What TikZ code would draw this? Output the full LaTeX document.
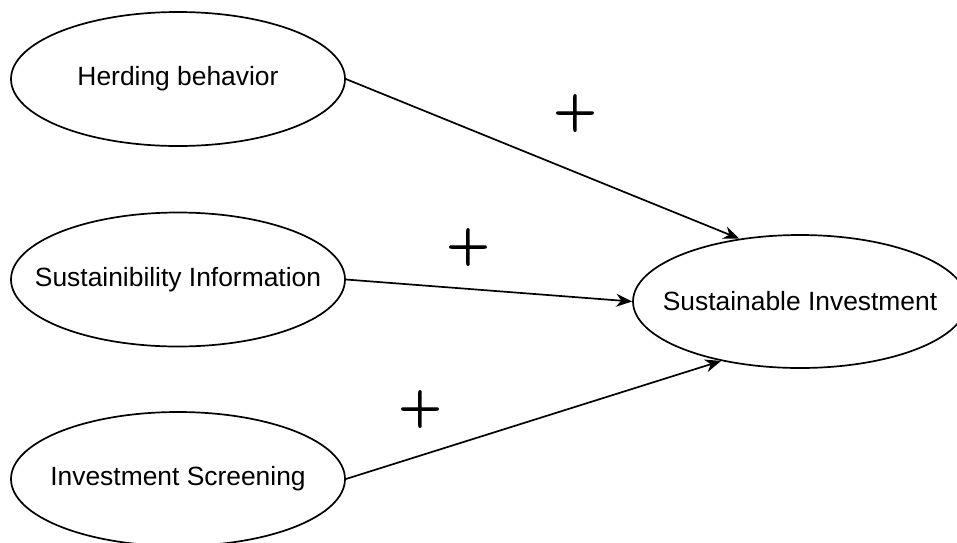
\documentclass[tikz,border=0pt]{standalone}
\usepackage{fontspec}
\setmainfont{Liberation Sans}
\newfontfamily\plusfont[FakeBold=2.5]{Latin Modern Roman}
\usetikzlibrary{shapes.geometric,arrows.meta}
\begin{document}
\begin{tikzpicture}[x=1pt,y=-1pt,
  oval/.style={draw,ellipse,line width=1.7pt,inner sep=0pt,minimum width=334pt,minimum height=134pt},
  ovaltext/.style={font=\fontsize{26.4}{30}\selectfont},
  link/.style={line width=1.7pt,-{Stealth[length=16pt,width=13pt]}},
  plussign/.style={inner sep=0pt,font=\plusfont\fontsize{58}{60}\selectfont}]
\useasboundingbox (0,0) rectangle (957,542);
\node[oval,label={[ovaltext]center:Herding behavior}] (hb) at (178,79) {};
\node[oval,label={[ovaltext]center:Sustainibility Information}] (sinfo) at (178,279.5) {};
\node[oval,label={[ovaltext]center:Investment Screening}] (iscr) at (178,479) {};
\node[oval,minimum height=133pt,label={[ovaltext]center:Sustainable Investment}] (sinv) at (800,301.5) {};
\draw[link] (hb.east) -- (sinv.134.8);
\draw[link] (sinfo.east) -- (sinv.west);
\draw[link] (iscr.east) -- (sinv.217.4);
\node[plussign] (p1) at (575,113) {+};
\node[plussign] (p2) at (468,247) {+};
\node[plussign] (p3) at (420,409) {+};
\end{tikzpicture}
\end{document}
